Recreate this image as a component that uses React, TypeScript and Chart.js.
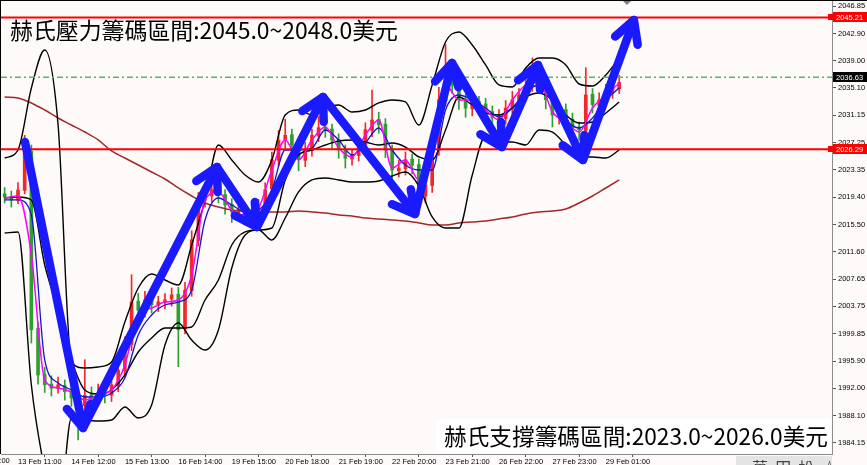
import { useEffect, useRef } from 'react';
import { Chart, registerables } from 'chart.js';
Chart.register(...registerables);

// axis frame (index = one 3-hour candle)
const X_MIN = 0.455;
const X_MAX = 124.85;
const Y_MIN = 1982.57;
const Y_MAX = 2047.57;

const Y_TICKS = [2046.85, 2042.9, 2039.0, 2035.1, 2031.15, 2027.25, 2023.35, 2019.4, 2015.5,
  2011.6, 2007.65, 2003.75, 1999.85, 1995.9, 1992.0, 1988.1, 1984.15];
const X_TICKS = [3, 11, 19, 27, 35, 43, 51, 59, 67, 75, 83, 91];
const X_LABELS = ['13 Feb 11:00', '14 Feb 12:00', '15 Feb 13:00', '16 Feb 14:00',
  '19 Feb 15:00', '20 Feb 18:00', '21 Feb 19:00', '22 Feb 20:00', '23 Feb 21:00',
  '26 Feb 22:00', '27 Feb 23:00', '29 Feb 01:00'];
// label of the tick just left of the window, only its tail shows
const X_CUT_TICK = -5;
const X_CUT_LABEL = '12 Feb 10:00';

// candles, index 1..93
const FIRST_CANDLE = 1;
const OPEN = [
  2019.9, 2019.5, 2019.0, 2020.4, 2026.0, 2000.6, 1994.0, 1992.6, 1992.0, 1992.4,
  1991.6, 1990.7, 1989.5, 1991.1, 1990.2, 1991.4, 1991.0, 1992.4, 1994.5, 1998.3,
  2004.5, 2003.1, 2004.8, 2003.9, 2004.3, 2004.8, 2005.5, 2000.5, 2006.0, 2013.2,
  2019.0, 2019.6, 2020.6, 2019.8, 2018.4, 2017.2, 2017.7, 2016.8, 2017.5, 2018.2,
  2020.6, 2024.7, 2027.7, 2028.4, 2027.0, 2024.7, 2026.1, 2028.2, 2029.5, 2029.2,
  2027.7, 2026.3, 2024.9, 2025.4, 2026.8, 2029.0, 2030.6, 2029.9, 2026.3, 2023.2,
  2023.5, 2024.9, 2024.1, 2019.6, 2021.1, 2026.1, 2033.3, 2037.8, 2035.6, 2033.5,
  2032.1, 2033.2, 2032.8, 2031.7, 2030.7, 2030.7, 2032.1, 2033.3, 2034.0, 2035.4,
  2037.1, 2035.6, 2033.5, 2031.1, 2032.0, 2030.6, 2029.5, 2029.0, 2034.2, 2032.6,
  2033.3, 2034.4, 2035.0,
];
const HIGH = [
  2020.8, 2020.3, 2021.5, 2028.3, 2026.9, 2001.5, 1995.0, 1993.8, 1993.6, 1993.2,
  1992.4, 1991.5, 1996.1, 1992.2, 1992.6, 1992.5, 1993.4, 1995.6, 1999.4, 2008.3,
  2005.6, 2005.9, 2005.6, 2005.2, 2005.6, 2006.4, 2006.5, 2007.2, 2014.6, 2020.1,
  2021.2, 2021.9, 2021.3, 2020.5, 2019.2, 2018.6, 2018.5, 2018.6, 2019.1, 2021.5,
  2025.9, 2029.0, 2030.6, 2029.2, 2027.8, 2027.3, 2029.2, 2031.0, 2030.4, 2029.9,
  2028.5, 2026.9, 2026.3, 2027.9, 2030.1, 2034.8, 2031.6, 2030.7, 2026.9, 2024.7,
  2025.9, 2025.6, 2024.9, 2022.4, 2027.4, 2035.2, 2041.3, 2038.6, 2036.4, 2034.2,
  2034.3, 2033.9, 2033.6, 2032.5, 2032.0, 2033.3, 2034.6, 2035.0, 2036.6, 2039.4,
  2037.9, 2036.3, 2034.0, 2033.0, 2032.8, 2031.5, 2030.2, 2038.0, 2035.0, 2034.4,
  2035.6, 2036.0, 2036.9,
];
const LOW = [
  2018.6, 2018.0, 2018.5, 2019.9, 1998.5, 1992.6, 1991.4, 1990.9, 1991.3, 1990.3,
  1989.4, 1984.6, 1988.9, 1989.3, 1989.4, 1989.9, 1990.1, 1991.5, 1993.6, 1997.4,
  2002.1, 2002.2, 2002.8, 2003.0, 2003.4, 2003.8, 1995.1, 1999.8, 2005.2, 2012.4,
  2018.0, 2018.7, 2018.6, 2017.0, 2015.8, 2016.2, 2015.4, 2015.9, 2016.6, 2017.4,
  2019.8, 2023.9, 2026.5, 2025.9, 2023.2, 2023.8, 2025.3, 2027.4, 2028.0, 2026.4,
  2025.0, 2023.6, 2024.0, 2024.6, 2025.9, 2028.1, 2028.6, 2025.1, 2022.0, 2022.3,
  2022.6, 2022.8, 2016.9, 2018.6, 2020.1, 2025.4, 2032.5, 2034.3, 2032.0, 2030.9,
  2031.1, 2031.5, 2030.1, 2029.3, 2029.4, 2029.9, 2031.2, 2032.4, 2033.2, 2034.6,
  2034.3, 2032.1, 2029.5, 2029.9, 2029.0, 2028.2, 2027.6, 2028.2, 2031.5, 2031.8,
  2032.6, 2033.6, 2034.3,
];
const CLOSE = [
  2019.45, 2019.0, 2020.45, 2026.2, 2000.4, 1993.9, 1992.5, 1992.0, 1992.5, 1991.5,
  1990.6, 1989.6, 1991.0, 1990.3, 1991.3, 1991.0, 1992.5, 1994.6, 1998.2, 2004.4,
  2003.2, 2004.7, 2004.0, 2004.4, 2004.7, 2005.4, 2000.4, 2006.1, 2013.3, 2018.9,
  2019.7, 2020.5, 2019.7, 2018.3, 2017.3, 2017.6, 2016.9, 2017.6, 2018.3, 2020.5,
  2024.8, 2027.6, 2028.3, 2026.9, 2024.8, 2026.2, 2028.3, 2029.4, 2029.1, 2027.6,
  2026.2, 2025.0, 2025.5, 2026.9, 2029.1, 2030.5, 2029.8, 2026.2, 2023.3, 2023.6,
  2024.8, 2024.0, 2019.7, 2021.2, 2026.2, 2033.4, 2037.7, 2035.5, 2033.4, 2032.2,
  2033.1, 2032.7, 2031.6, 2030.8, 2030.8, 2032.2, 2033.4, 2034.1, 2035.5, 2037.0,
  2035.5, 2033.4, 2031.2, 2031.9, 2030.5, 2029.4, 2029.1, 2034.1, 2032.7, 2033.4,
  2034.5, 2035.1, 2035.9,
];

// indicator lines, read every second candle
const LINE_X = [1, 3, 5, 7, 9, 11, 13, 15, 17, 19, 21, 23, 25, 27, 29, 31, 33, 35, 37, 39,
  41, 43, 45, 47, 49, 51, 53, 55, 57, 59, 61, 63, 65, 67, 69, 71, 73, 75, 77, 79,
  81, 83, 85, 87, 89, 91, 93];
const BB_UPPER = [
  2025.04, 2026.19, 2035.09, 2040.54, 2029.78, 1995.77, 1994.91, 1995.06, 1995.77, 2001.51,
  2006.39, 2008.4, 2007.54, 2006.82, 2012.56, 2019.02, 2026.91, 2024.76, 2022.6, 2021.6,
  2024.76, 2031.21, 2031.93, 2031.21, 2032.22, 2032.65, 2031.64, 2031.93, 2032.94, 2033.37,
  2033.08, 2029.78, 2035.52, 2041.69, 2043.12, 2041.26, 2038.39, 2035.52, 2035.23, 2037.96,
  2039.39, 2039.39, 2038.39, 2035.66, 2035.37, 2036.95, 2039.39,
];
const BB_MID = [
  2019.3, 2019.45, 2019.02, 2009.69, 2003.23, 1996.06, 1991.76, 1991.18, 1991.76, 1993.91,
  1997.21, 1999.22, 2000.65, 2000.65, 2000.8, 2004.67, 2007.54, 2012.56, 2014.43, 2014.71,
  2015.0, 2021.89, 2025.47, 2026.19, 2026.91, 2027.48, 2027.63, 2027.34, 2026.91, 2027.2,
  2026.62, 2025.19, 2024.76, 2029.06, 2033.8, 2032.65, 2031.5, 2031.21, 2032.22, 2033.8,
  2034.37, 2033.37, 2031.21, 2030.07, 2030.21, 2031.5, 2033.08,
];
const BB_LOWER = [
  2014.28, 2014.43, 1992.47, 1980.28, 1973.1, 1987.74, 1987.45, 1987.31, 1987.45, 1989.32,
  1987.74, 1989.6, 1998.21, 2001.37, 1998.93, 1997.49, 2000.36, 2009.26, 2013.99, 2014.71,
  2013.28, 2016.43, 2020.17, 2021.89, 2022.17, 2021.89, 2021.6, 2021.6, 2021.74, 2022.46,
  2023.03, 2021.03, 2016.58, 2015.0, 2015.0, 2022.6, 2028.2, 2027.34, 2027.34, 2026.91,
  2029.06, 2028.77, 2026.91, 2025.19, 2025.19, 2025.04, 2026.19,
];
const MA_FAST = [
  2019.3, 2019.59, 2011.13, 1993.19, 1992.04, 1991.47, 1990.32, 1991.04, 1991.76, 1995.34,
  2002.52, 2003.52, 2004.38, 2004.67, 2008.26, 2019.02, 2020.17, 2017.58, 2016.87, 2017.87,
  2023.32, 2027.63, 2024.76, 2027.63, 2029.49, 2026.48, 2025.19, 2028.34, 2030.5, 2023.61,
  2024.76, 2021.89, 2024.76, 2035.52, 2033.37, 2033.37, 2031.93, 2030.5, 2033.37, 2035.52,
  2035.95, 2031.64, 2030.21, 2028.77, 2032.22, 2034.08, 2035.8,
];
const MA_MID = [
  2019.02, 2019.02, 2016.87, 1996.06, 1992.76, 1991.76, 1990.75, 1990.75, 1991.33, 1993.48,
  1999.65, 2002.52, 2003.95, 2004.38, 2006.1, 2016.15, 2019.3, 2018.3, 2017.3, 2017.58,
  2020.45, 2026.19, 2026.19, 2026.48, 2029.06, 2027.63, 2025.47, 2027.2, 2029.35, 2026.19,
  2024.04, 2023.32, 2023.32, 2031.93, 2034.08, 2033.37, 2032.22, 2030.93, 2032.22, 2034.51,
  2035.52, 2033.37, 2030.5, 2029.35, 2030.78, 2033.37, 2035.09,
];
const MA_SLOW = [
  2033.8, 2033.65, 2032.94, 2031.93, 2030.78, 2029.78, 2028.77, 2027.63, 2026.05, 2025.04,
  2024.04, 2023.03, 2022.03, 2020.74, 2019.59, 2018.59, 2018.01, 2017.58, 2017.44, 2017.3,
  2017.3, 2017.3, 2017.44, 2017.3, 2017.15, 2016.87, 2016.72, 2016.43, 2016.29, 2016.15,
  2016.0, 2015.72, 2015.43, 2015.43, 2015.72, 2015.86, 2016.0, 2016.29, 2016.58, 2017.01,
  2017.3, 2017.44, 2017.73, 2018.59, 2019.59, 2020.74, 2021.89,
];

// hand-drawn zigzag arrow, vertices in (candle index, price)
const ARROW_X = [4.05, 12.73, 32.79, 38.77, 48.65, 62.42, 67.96, 75.44, 80.83, 87.57, 95.2];
const ARROW_Y = [2027.34, 1986.3, 2023.75, 2015.14, 2033.8, 2017.01, 2038.67, 2026.62, 2038.39, 2024.76, 2044.84];

const RESISTANCE = 2045.21;
const SUPPORT = 2026.29;
const BID = 2036.63;

const TOP_NOTE = '赫氏壓力籌碼區間:2045.0~2048.0美元';
const BOTTOM_NOTE = '赫氏支撐籌碼區間:2023.0~2026.0美元';

const UP = '#f02828';
const DOWN = '#2ca02c';
const AXIS_FONT = { family: 'Liberation Sans', size: 7.5 };

const overlay = {
  id: 'overlay',
  beforeDraw(chart: any) {
    const { ctx, width, height } = chart;
    ctx.save();
    ctx.fillStyle = '#fffafa';
    ctx.fillRect(0, 0, width, height);
    ctx.restore();
  },
  afterDraw(chart: any) {
    const { ctx, chartArea: a, scales } = chart;
    const xs = scales.x;
    const ys = scales.y;
    ctx.save();

    // price levels
    ctx.save();
    ctx.beginPath();
    ctx.rect(a.left, a.top, a.right - a.left, a.bottom - a.top);
    ctx.clip();
    ctx.strokeStyle = '#ff0000';
    ctx.lineWidth = 2;
    for (const v of [RESISTANCE, SUPPORT]) {
      const py = ys.getPixelForValue(v);
      ctx.beginPath();
      ctx.moveTo(a.left, py);
      ctx.lineTo(a.right, py);
      ctx.stroke();
    }
    const gy = ys.getPixelForValue(BID);
    ctx.strokeStyle = '#4fbf4f';
    ctx.lineWidth = 1.3;
    ctx.setLineDash([6, 3, 2, 3]);
    ctx.beginPath();
    ctx.moveTo(a.left, gy);
    ctx.lineTo(a.right, gy);
    ctx.stroke();
    ctx.setLineDash([]);

    // arrows
    const pts = ARROW_X.map((v, i) => [xs.getPixelForValue(v), ys.getPixelForValue(ARROW_Y[i])]);
    ctx.strokeStyle = '#1a1aff';
    ctx.lineWidth = 8.5;
    ctx.lineCap = 'round';
    ctx.lineJoin = 'round';
    ctx.beginPath();
    pts.forEach(([px, py], i) => (i ? ctx.lineTo(px, py) : ctx.moveTo(px, py)));
    ctx.stroke();
    for (let i = 1; i < pts.length; i++) {
      const [x0, y0] = pts[i - 1];
      const [x1, y1] = pts[i];
      const ang = Math.atan2(y1 - y0, x1 - x0);
      ctx.beginPath();
      for (const s of [-1, 1]) {
        const t = ang + Math.PI + s * 0.5;
        ctx.moveTo(x1, y1);
        ctx.lineTo(x1 + 25 * Math.cos(t), y1 + 25 * Math.sin(t));
      }
      ctx.stroke();
    }
    ctx.restore();

    // notes
    ctx.font = '23px "Noto Sans CJK TC"';
    ctx.textAlign = 'left';
    ctx.textBaseline = 'alphabetic';
    ctx.fillStyle = '#000';
    ctx.fillText(TOP_NOTE, 10, 39, 388);
    ctx.fillStyle = '#ffffff';
    ctx.fillRect(436, 419, a.right - 437, a.bottom - 420);
    ctx.fillStyle = '#000';
    ctx.fillText(BOTTOM_NOTE, 444, 445, 384);

    // tail of the cut-off time label
    const cx = xs.getPixelForValue(X_CUT_TICK);
    ctx.font = `${AXIS_FONT.size}px "${AXIS_FONT.family}"`;
    ctx.textBaseline = 'top';
    ctx.fillText(X_CUT_LABEL, cx + 1, a.bottom + 3);

    // price tags on the axis
    const tag = (v: number, bg: string, marker: boolean) => {
      const py = Math.round(ys.getPixelForValue(v));
      ctx.fillStyle = bg;
      ctx.fillRect(a.right + 1, py - 5, 34, 10);
      if (marker) ctx.fillRect(a.right - 4, py - 3, 5, 6);
      ctx.fillStyle = '#fff';
      ctx.font = `${AXIS_FONT.size}px "${AXIS_FONT.family}"`;
      ctx.textBaseline = 'middle';
      ctx.fillText(v.toFixed(2), a.right + 4, py + 0.5);
    };
    tag(RESISTANCE, '#ff0000', true);
    tag(SUPPORT, '#ff0000', true);
    tag(BID, '#000000', false);

    // window frame and chart-shift marker
    ctx.fillStyle = '#000';
    ctx.fillRect(0, 0, chart.width, 1);
    ctx.fillRect(0, 0, 1, a.bottom);
    ctx.fillStyle = '#7d7d8c';
    ctx.beginPath();
    ctx.moveTo(623, 1);
    ctx.lineTo(631, 1);
    ctx.lineTo(627, 5);
    ctx.closePath();
    ctx.fill();

    // toolbar edge at the bottom right
    ctx.fillStyle = '#e4e4e4';
    ctx.fillRect(736, 456, 96, 9);
    ctx.fillStyle = '#444';
    ctx.font = '16px "Noto Sans CJK TC"';
    ctx.textBaseline = 'alphabetic';
    ctx.fillText('萬  田  松  ☆', 752, 474);
    ctx.restore();
  },
};

export default function App() {
  const canvasRef = useRef<HTMLCanvasElement>(null);

  useEffect(() => {
    document.body.style.margin = '0';
    const cx = OPEN.map((_, i) => i + FIRST_CANDLE);
    const colors = OPEN.map((o, i) => (CLOSE[i] >= o ? UP : DOWN));
    const line = (label: string, values: number[], color: string, width: number, order: number) => ({
      type: 'line' as const,
      label,
      data: LINE_X.map((x, i) => ({ x, y: values[i] })),
      borderColor: color,
      borderWidth: width,
      pointRadius: 0,
      cubicInterpolationMode: 'monotone' as const,
      order,
    });

    const chart = new Chart(canvasRef.current!, {
      type: 'line',
      data: {
        datasets: [
          line('BB upper', BB_UPPER, '#000000', 1.4, 3),
          line('BB middle', BB_MID, '#000000', 1.4, 3),
          line('BB lower', BB_LOWER, '#000000', 1.4, 3),
          line('MA slow', MA_SLOW, '#a3282a', 1.5, 4),
          line('MA mid', MA_MID, '#1414c8', 1.3, 2),
          line('MA fast', MA_FAST, '#ff00ff', 1.5, 1),
          {
            type: 'bar',
            label: 'wick',
            data: cx.map((x, i) => ({ x, y: [LOW[i], HIGH[i]] })),
            backgroundColor: colors,
            barThickness: 1,
            grouped: false,
            order: 10,
          } as any,
          {
            type: 'bar',
            label: 'body',
            data: cx.map((x, i) => ({ x, y: [OPEN[i], CLOSE[i]] })),
            backgroundColor: colors,
            barThickness: 3,
            minBarLength: 1,
            grouped: false,
            order: 9,
          } as any,
        ],
      },
      options: {
        responsive: false,
        animation: false,
        layout: { padding: { left: 1, top: 1, right: 0, bottom: 0 } },
        plugins: { legend: { display: false }, tooltip: { enabled: false } },
        scales: {
          x: {
            type: 'linear',
            min: X_MIN,
            max: X_MAX,
            offset: false,
            afterBuildTicks: (s: any) => { s.ticks = X_TICKS.map((v) => ({ value: v })); },
            afterFit: (s: any) => {
              s.height = 11;
              s.paddingLeft = 0;
              s.paddingRight = 0;
            },
            ticks: {
              autoSkip: false,
              maxRotation: 0,
              minRotation: 0,
              align: 'start',
              padding: 0,
              color: '#000',
              font: AXIS_FONT,
              callback: (v: any) => X_LABELS[X_TICKS.indexOf(Number(v))] ?? '',
            },
            grid: { drawOnChartArea: false, tickLength: 3, color: '#555' },
            border: { color: '#8c8c8c' },
          },
          y: {
            position: 'right',
            min: Y_MIN,
            max: Y_MAX,
            afterBuildTicks: (s: any) => { s.ticks = Y_TICKS.map((v) => ({ value: v })); },
            afterFit: (s: any) => {
              s.width = 35;
              s.paddingTop = 0;
              s.paddingBottom = 0;
            },
            ticks: {
              autoSkip: false,
              padding: 2,
              color: '#000',
              font: AXIS_FONT,
              callback: (v: any) => Number(v).toFixed(2),
            },
            grid: { drawOnChartArea: false, tickLength: 4, color: '#555' },
            border: { color: '#8c8c8c' },
          },
        },
      },
      plugins: [overlay],
    });

    return () => { chart.destroy(); };
  }, []);

  return (
    <div style={{ width: 867, height: 465 }}>
      <canvas ref={canvasRef} width={867} height={465} />
    </div>
  );
}
